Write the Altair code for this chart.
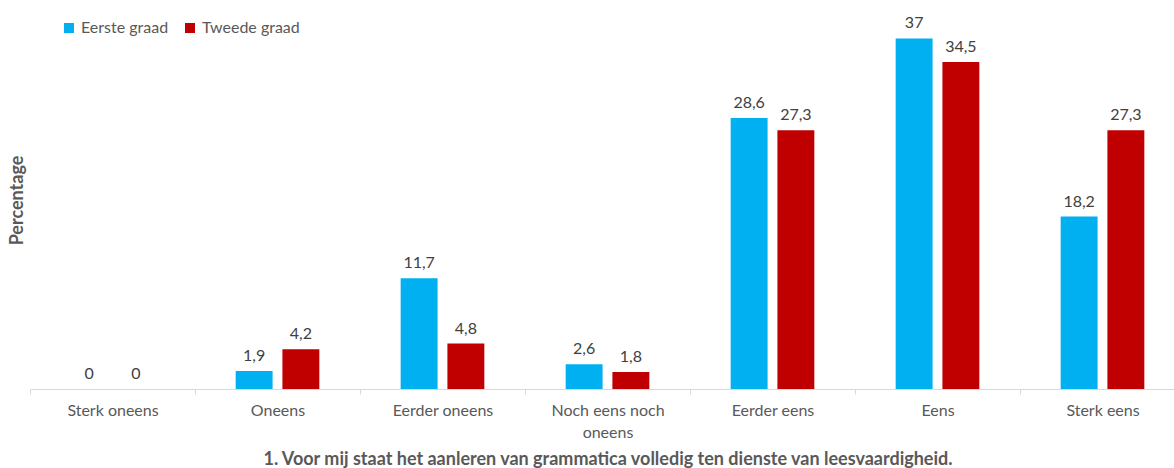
import altair as alt
import pandas as pd

categories = ["Sterk oneens", "Oneens", "Eerder oneens", "Noch eens noch oneens",
              "Eerder eens", "Eens", "Sterk eens"]
series = ["Eerste graad", "Tweede graad"]
eerste = [0, 1.9, 11.7, 2.6, 28.6, 37, 18.2]
tweede = [0, 4.2, 4.8, 1.8, 27.3, 34.5, 27.3]
colors = ["#00B0F0", "#C00000"]

rows = []
for c, a, b in zip(categories, eerste, tweede):
    rows.append({"cat": c, "serie": series[0], "val": a})
    rows.append({"cat": c, "serie": series[1], "val": b})
df = pd.DataFrame(rows)
df["lab"] = df["val"].map(lambda v: f"{v:g}".replace(".", ","))

FONT = "Lato"

x = alt.X("cat:N", sort=categories,
          scale=alt.Scale(paddingInner=0, paddingOuter=0),
          axis=alt.Axis(title="1. Voor mij staat het aanleren van grammatica volledig ten dienste van leesvaardigheid.",
                        titleFont=FONT, titleFontSize=18, titleFontWeight="bold", titleColor="#595959",
                        titleY=70, titleBaseline="middle",
                        labelAngle=0, labelFont=FONT, labelFontSize=16, labelColor="#595959",
                        labelPadding=8, labelLineHeight=22,
                        labelExpr="datum.value == 'Noch eens noch oneens' ? ['Noch eens noch', 'oneens'] : datum.value",
                        tickBand="extent", tickSize=5, tickColor="#d9d9d9",
                        domainColor="#d9d9d9", domainWidth=1, grid=False))
xo = alt.XOffset("serie:N", sort=series,
                 scale=alt.Scale(paddingInner=0.21, paddingOuter=0.87))
y = alt.Y("val:Q", scale=alt.Scale(domain=[0, 40], nice=False),
          axis=alt.Axis(title="Percentage", labels=False, ticks=False, domain=False, grid=False,
                        titleFont=FONT, titleFontSize=18, titleFontWeight="bold", titleColor="#595959",
                        titleX=-13, titleY=190, titleAngle=-90, titleBaseline="middle"))

bars = alt.Chart(df).mark_bar().encode(
    x=x, xOffset=xo, y=y,
    color=alt.Color("serie:N", sort=series,
                    scale=alt.Scale(domain=series, range=colors),
                    legend=alt.Legend(title=None, orient="none", legendX=31, legendY=10,
                                      direction="horizontal", symbolType="square", symbolSize=100,
                                      symbolStrokeWidth=0, labelFont=FONT, labelFontSize=16,
                                      labelColor="#595959", labelOffset=4, columnPadding=13)),
)

text = alt.Chart(df).mark_text(baseline="bottom", dy=-7, font=FONT, fontSize=16, color="#404040").encode(
    x=alt.X("cat:N", sort=categories), xOffset=xo, y="val:Q", text="lab:N")

chart = alt.layer(bars, text).properties(
    width=1155, height=379,
    padding={"left": 30, "top": 10, "right": -11, "bottom": 79},
    autosize=alt.AutoSizeParams(type="none"),
    background="white",
).configure_view(strokeWidth=0, stroke="transparent")

chart.save("out.html", embed_options={"renderer": "svg", "actions": False})
